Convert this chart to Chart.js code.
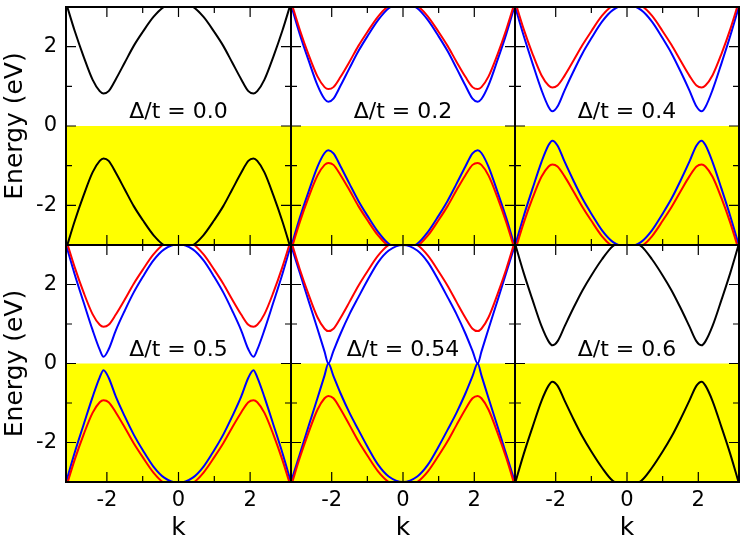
<!DOCTYPE html>
<html>
<head>
<meta charset="utf-8">
<script src="https://cdn.jsdelivr.net/npm/chart.js@4.4.0/dist/chart.umd.min.js"></script>
<style>
  html, body { margin: 0; padding: 0; background: #fff; }
  #wrap { position: relative; width: 747px; height: 538px; }
  #wrap canvas { position: absolute; left: 0; top: 0; }
</style>
</head>
<body>
<div id="wrap"></div>
<script>
// k points (-pi .. pi)
const kValues = [-3.1416, -2.9, -2.65, -2.4, -2.2, -2.094, -1.95, -1.75, -1.5, -1.25, -1.0, -0.7, -0.4, 0,
                 0.4, 0.7, 1.0, 1.25, 1.5, 1.75, 1.95, 2.094, 2.2, 2.4, 2.65, 2.9, 3.1416];

const deltaLabels = ['\u0394/t = 0.0', '\u0394/t = 0.2', '\u0394/t = 0.4', '\u0394/t = 0.5', '\u0394/t = 0.54', '\u0394/t = 0.6'];
const xTicks = [-2, 0, 2];
const yTicks = [-2, 0, 2];
const minorTicks = [-1, 1];

// delta = 0.0
const black00Up  = [3.11,2.40,1.75,1.17,0.88,0.82,0.88,1.18,1.60,2.02,2.37,2.75,3.01,3.14,3.01,2.75,2.37,2.02,1.60,1.18,0.88,0.82,0.88,1.17,1.75,2.40,3.11];
const black00Low = [-3.11,-2.40,-1.75,-1.17,-0.88,-0.82,-0.88,-1.18,-1.60,-2.02,-2.37,-2.75,-3.01,-3.14,-3.01,-2.75,-2.37,-2.02,-1.60,-1.18,-0.88,-0.82,-0.88,-1.17,-1.75,-2.40,-3.11];
// delta = 0.2
const red02Up   = [3.14,2.44,1.80,1.25,0.98,0.93,0.98,1.24,1.62,2.02,2.37,2.76,3.03,3.16,3.03,2.76,2.37,2.02,1.62,1.24,0.98,0.93,0.98,1.25,1.80,2.44,3.14];
const red02Low  = [-3.14,-2.44,-1.80,-1.25,-0.98,-0.93,-0.98,-1.24,-1.62,-2.02,-2.37,-2.76,-3.03,-3.16,-3.03,-2.76,-2.37,-2.02,-1.62,-1.24,-0.98,-0.93,-0.98,-1.25,-1.80,-2.44,-3.14];
const blue02Up  = [3.06,2.33,1.66,1.03,0.68,0.61,0.69,1.02,1.46,1.89,2.26,2.67,2.97,3.10,2.97,2.67,2.26,1.89,1.46,1.02,0.69,0.61,0.68,1.03,1.66,2.33,3.06];
const blue02Low = [-3.06,-2.33,-1.66,-1.03,-0.68,-0.61,-0.69,-1.02,-1.46,-1.89,-2.26,-2.67,-2.97,-3.10,-2.97,-2.67,-2.26,-1.89,-1.46,-1.02,-0.69,-0.61,-0.68,-1.03,-1.66,-2.33,-3.06];
// delta = 0.4
const red04Up   = [3.15,2.45,1.82,1.28,1.02,0.97,1.02,1.27,1.65,2.04,2.39,2.78,3.04,3.17,3.04,2.78,2.39,2.04,1.65,1.27,1.02,0.97,1.02,1.28,1.82,2.45,3.15];
const red04Low  = [-3.15,-2.45,-1.82,-1.28,-1.02,-0.97,-1.02,-1.27,-1.65,-2.04,-2.39,-2.78,-3.04,-3.17,-3.04,-2.78,-2.39,-2.04,-1.65,-1.27,-1.02,-0.97,-1.02,-1.28,-1.82,-2.45,-3.15];
const blue04Up  = [3.02,2.28,1.58,0.91,0.48,0.37,0.49,0.90,1.38,1.83,2.21,2.63,2.92,3.05,2.92,2.63,2.21,1.83,1.38,0.90,0.49,0.37,0.48,0.91,1.58,2.28,3.02];
const blue04Low = [-3.02,-2.28,-1.58,-0.91,-0.48,-0.37,-0.49,-0.90,-1.38,-1.83,-2.21,-2.63,-2.92,-3.05,-2.92,-2.63,-2.21,-1.83,-1.38,-0.90,-0.49,-0.37,-0.48,-0.91,-1.58,-2.28,-3.02];
// delta = 0.5
const red05Up   = [3.14,2.44,1.80,1.25,0.98,0.93,0.98,1.24,1.62,2.02,2.37,2.76,3.03,3.16,3.03,2.76,2.37,2.02,1.62,1.24,0.98,0.93,0.98,1.25,1.80,2.44,3.14];
const red05Low  = [-3.14,-2.44,-1.80,-1.25,-0.98,-0.93,-0.98,-1.24,-1.62,-2.02,-2.37,-2.76,-3.03,-3.16,-3.03,-2.76,-2.37,-2.02,-1.62,-1.24,-0.98,-0.93,-0.98,-1.25,-1.80,-2.44,-3.14];
const blue05Up  = [3.01,2.26,1.55,0.85,0.35,0.17,0.36,0.84,1.34,1.80,2.19,2.61,2.89,3.02,2.89,2.61,2.19,1.80,1.34,0.84,0.36,0.17,0.35,0.85,1.55,2.26,3.01];
const blue05Low = [-3.01,-2.26,-1.55,-0.85,-0.35,-0.17,-0.36,-0.84,-1.34,-1.80,-2.19,-2.61,-2.89,-3.02,-2.89,-2.61,-2.19,-1.80,-1.34,-0.84,-0.36,-0.17,-0.35,-0.85,-1.55,-2.26,-3.01];
// delta = 0.54
const red054Up   = [3.11,2.40,1.75,1.17,0.88,0.82,0.88,1.16,1.56,1.97,2.33,2.73,3.00,3.13,3.00,2.73,2.33,1.97,1.56,1.16,0.88,0.82,0.88,1.17,1.75,2.40,3.11];
const red054Low  = [-3.11,-2.40,-1.75,-1.17,-0.88,-0.82,-0.88,-1.16,-1.56,-1.97,-2.33,-2.73,-3.00,-3.13,-3.00,-2.73,-2.33,-1.97,-1.56,-1.16,-0.88,-0.82,-0.88,-1.17,-1.75,-2.40,-3.11];
const blue054Up  = [3.00,2.31,1.59,0.88,0.30,0.00,0.32,0.76,1.25,1.68,2.10,2.56,2.86,3.00,2.86,2.56,2.10,1.68,1.25,0.76,0.32,0.00,0.30,0.88,1.59,2.31,3.00];
const blue054Low = [-3.00,-2.31,-1.59,-0.88,-0.30,0.00,-0.32,-0.76,-1.25,-1.68,-2.10,-2.56,-2.86,-3.00,-2.86,-2.56,-2.10,-1.68,-1.25,-0.76,-0.32,0.00,-0.30,-0.88,-1.59,-2.31,-3.00];
// delta = 0.6
const black06Up  = [3.04,2.30,1.61,0.95,0.56,0.46,0.56,0.94,1.41,1.85,2.23,2.64,2.97,3.10,2.97,2.64,2.23,1.85,1.41,0.94,0.56,0.46,0.56,0.95,1.61,2.30,3.04];
const black06Low = [-3.04,-2.30,-1.61,-0.95,-0.56,-0.46,-0.56,-0.94,-1.41,-1.85,-2.23,-2.64,-2.97,-3.10,-2.97,-2.64,-2.23,-1.85,-1.41,-0.94,-0.56,-0.46,-0.56,-0.95,-1.61,-2.30,-3.04];

const RED = '#ff0000', BLUE = '#0000ff', BLACK = '#000000';
const panels = [
  [[black00Up, BLACK], [black00Low, BLACK]],
  [[red02Up, RED], [red02Low, RED], [blue02Up, BLUE], [blue02Low, BLUE]],
  [[red04Up, RED], [red04Low, RED], [blue04Up, BLUE], [blue04Low, BLUE]],
  [[red05Up, RED], [red05Low, RED], [blue05Up, BLUE], [blue05Low, BLUE]],
  [[red054Up, RED], [red054Low, RED], [blue054Up, BLUE], [blue054Low, BLUE]],
  [[black06Up, BLACK], [black06Low, BLACK]]
];

// panel frame positions (pixels)
const colLeft = [66, 291, 515], colRight = [291, 515, 739];
const rowTop = [7, 245], rowBottom = [245, 482];

Chart.defaults.font.family = '"DejaVu Sans", sans-serif';
Chart.defaults.color = '#000';

const panelPlugin = {
  id: 'panel',
  beforeDatasetsDraw(chart) {
    const { ctx, chartArea: a, scales: { x, y } } = chart;
    const y0 = y.getPixelForValue(0);
    ctx.save();
    ctx.fillStyle = '#ffff00';
    ctx.fillRect(a.left, y0, a.right - a.left, a.bottom - y0);
    ctx.restore();
  },
  afterDatasetsDraw(chart, args, opts) {
    const { ctx, chartArea: a, scales: { x, y } } = chart;
    ctx.save();
    ctx.strokeStyle = '#000';
    ctx.lineWidth = 1.2;
    ctx.beginPath();
    const tick = (v, len) => {
      const px = x.getPixelForValue(v);
      ctx.moveTo(px, a.top); ctx.lineTo(px, a.top + len);
      ctx.moveTo(px, a.bottom); ctx.lineTo(px, a.bottom - len);
      const py = y.getPixelForValue(v);
      ctx.moveTo(a.left, py); ctx.lineTo(a.left + len, py);
      ctx.moveTo(a.right, py); ctx.lineTo(a.right - len, py);
    };
    xTicks.forEach(v => tick(v, 10));
    minorTicks.forEach(v => tick(v, 6));
    ctx.stroke();
    ctx.lineWidth = 2;
    ctx.strokeRect(a.left, a.top, a.right - a.left, a.bottom - a.top);
    ctx.fillStyle = '#000';
    ctx.font = '22px "DejaVu Sans"';
    ctx.textAlign = 'center';
    ctx.textBaseline = 'alphabetic';
    ctx.fillText(opts.label, x.getPixelForValue(0), y.getPixelForValue(0.2));
    ctx.restore();
  }
};

const wrap = document.getElementById('wrap');
panels.forEach((series, i) => {
  const row = Math.floor(i / 3), col = i % 3;
  const isLeft = col === 0, isBottom = row === 1;
  const cv = document.createElement('canvas');
  cv.width = 747; cv.height = 538;
  wrap.appendChild(cv);
  new Chart(cv, {
    type: 'scatter',
    data: {
      datasets: series.map(([vals, color]) => ({
        data: kValues.map((k, j) => ({ x: k, y: vals[j] })),
        borderColor: color,
        borderWidth: 2,
        showLine: true,
        pointRadius: 0,
        cubicInterpolationMode: 'monotone',
        clip: 0
      }))
    },
    options: {
      responsive: false,
      animation: false,
      devicePixelRatio: 1,
      events: [],
      layout: {
        padding: {
          left: isLeft ? 0 : colLeft[col],
          right: 747 - colRight[col],
          top: rowTop[row],
          bottom: isBottom ? 0 : 538 - rowBottom[row]
        }
      },
      plugins: {
        legend: { display: false },
        tooltip: { enabled: false },
        panel: { label: deltaLabels[i] }
      },
      scales: {
        x: {
          type: 'linear', min: -Math.PI, max: Math.PI,
          display: isBottom,
          grid: { display: false, drawTicks: false },
          border: { display: false },
          afterBuildTicks: s => { s.ticks = xTicks.map(v => ({ value: v })); },
          afterFit: s => {
            s.paddingLeft = 0; s.paddingRight = 0;
            if (isBottom) s.height = 538 - rowBottom[1];
          },
          ticks: { font: { size: 21 }, padding: 6, maxRotation: 0, autoSkip: false, callback: v => String(v) },
          title: { display: true, text: 'k', font: { size: 25 }, padding: { top: 0, bottom: -5 } }
        },
        y: {
          type: 'linear', min: -3, max: 3,
          display: isLeft,
          grid: { display: false, drawTicks: false },
          border: { display: false },
          afterBuildTicks: s => { s.ticks = yTicks.map(v => ({ value: v })); },
          afterFit: s => {
            s.paddingTop = 0; s.paddingBottom = 0;
            if (isLeft) s.width = colLeft[0];
          },
          ticks: { font: { size: 21 }, padding: 9, autoSkip: false, callback: v => String(v) },
          title: { display: true, text: 'Energy (eV)', font: { size: 25 }, padding: { top: 0, bottom: 0 } }
        }
      }
    },
    plugins: [panelPlugin]
  });
});
</script>
</body>
</html>
